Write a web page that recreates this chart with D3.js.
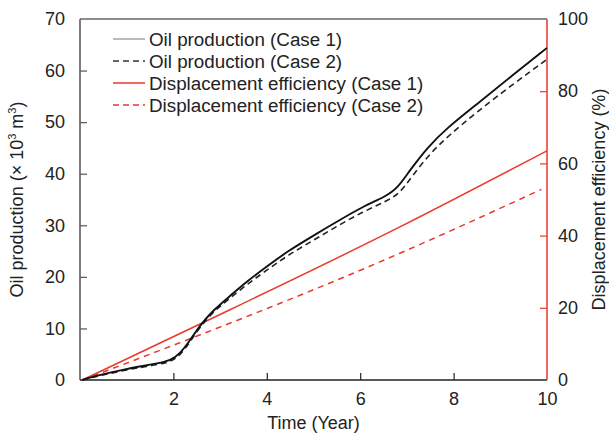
<!DOCTYPE html>
<html>
<head>
<meta charset="utf-8">
<script src="https://cdn.jsdelivr.net/npm/d3@7"></script>
<style>
  body { margin: 0; background: #fff; }
  svg { font-family: "Liberation Sans", Arial, sans-serif; }
  .axis text { font-size: 18px; fill: #222; }
  .axis .domain { display: none; }
</style>
</head>
<body>
<svg class="chart" width="609" height="434"></svg>
<script>
// years and values
var oilYears1 = [0.05, 0.2, 1.0, 1.6, 1.95, 2.15, 2.35, 2.57, 2.85, 3.2, 3.6, 4.0, 4.45, 5.0, 5.5, 6.05, 6.55, 6.8, 7.05, 7.45, 7.85, 8.5, 9.25, 10.0];
var oilCase1 = [0, 0.5, 2.2, 3.1, 3.8, 5.2, 7.6, 10.6, 13.5, 16.2, 19.3, 22.0, 25.0, 28.0, 30.7, 33.6, 35.6, 37.2, 40.5, 45.2, 48.8, 53.5, 59.0, 64.4];
var oilYears2 = [0.05, 0.2, 1.0, 1.6, 1.95, 2.15, 2.35, 2.57, 2.85, 3.2, 3.6, 4.0, 4.45, 5.0, 5.5, 6.05, 6.55, 6.85, 7.1, 7.5, 7.9, 8.5, 9.25, 10.0];
var oilCase2 = [0, 0.4, 2.0, 2.9, 3.5, 4.9, 7.3, 10.3, 13.2, 15.8, 18.7, 21.3, 24.2, 27.1, 29.8, 32.6, 34.6, 36.2, 39.4, 44.0, 47.4, 52.0, 57.2, 62.2];
var effYears1 = [0.05, 2.57, 6.85, 10.0];
var effCase1 = [0, 15.5, 42.4, 63.5];
var effYears2 = [0.05, 6.85, 9.88];
var effCase2 = [0, 35.1, 52.8];

var xTicks = [2, 4, 6, 8, 10];
var yTicks = [0, 10, 20, 30, 40, 50, 60, 70];
var y2Ticks = [0, 20, 40, 60, 80, 100];

var legendLabels = ["Oil production (Case 1)", "Oil production (Case 2)",
                    "Displacement efficiency (Case 1)", "Displacement efficiency (Case 2)"];

var red = "#e8392b";

var svg = d3.select(".chart"),
    margin = { top: 19, right: 62, bottom: 54, left: 80 },
    width = +svg.attr("width") - margin.left - margin.right,
    height = +svg.attr("height") - margin.top - margin.bottom;

var x = d3.scaleLinear().domain([0, 10]).range([0, width]),
    y = d3.scaleLinear().domain([0, 70]).range([height, 0]),
    y2 = d3.scaleLinear().domain([0, 100]).range([height, 0]);

var g = svg.append("g")
    .attr("transform", "translate(" + margin.left + "," + margin.top + ")");

// frame
g.append("line").attr("x1", 0).attr("x2", width).attr("y1", 0).attr("y2", 0)
    .attr("stroke", "#666").attr("stroke-width", 1.5);
g.append("line").attr("x1", 0).attr("x2", 0).attr("y1", 0).attr("y2", height)
    .attr("stroke", "#555").attr("stroke-width", 1.5);
g.append("line").attr("x1", 0).attr("x2", width).attr("y1", height).attr("y2", height)
    .attr("stroke", "#222").attr("stroke-width", 1.5);
g.append("line").attr("x1", width).attr("x2", width).attr("y1", 0).attr("y2", height)
    .attr("stroke", red).attr("stroke-width", 1.5);

// axes, ticks pointing inward
var xAxis = g.append("g")
    .attr("class", "axis")
    .attr("transform", "translate(0," + height + ")")
    .call(d3.axisTop(x).tickValues(xTicks).tickSize(7).tickFormat(d3.format("d")));
xAxis.selectAll("line").attr("stroke", "#222").attr("stroke-width", 1.2)
    .filter(function(d) { return d === 10; }).remove();
xAxis.selectAll("text").attr("y", 19).attr("dy", "0.35em");

var yAxis = g.append("g")
    .attr("class", "axis")
    .call(d3.axisRight(y).tickValues(yTicks).tickSize(7));
yAxis.selectAll("line").attr("stroke", "#555").attr("stroke-width", 1.2)
    .filter(function(d) { return d === 0 || d === 70; }).remove();
yAxis.selectAll("text").attr("x", -15).attr("text-anchor", "end");

var y2Axis = g.append("g")
    .attr("class", "axis")
    .attr("transform", "translate(" + width + ",0)")
    .call(d3.axisLeft(y2).tickValues(y2Ticks).tickSize(7));
y2Axis.selectAll("line").attr("stroke", red).attr("stroke-width", 1.2)
    .filter(function(d) { return d === 0 || d === 100; }).remove();
y2Axis.selectAll("text").attr("x", 11).attr("text-anchor", "start");

// axis titles
svg.append("text")
    .attr("x", margin.left + width / 2).attr("y", 429)
    .attr("text-anchor", "middle").attr("font-size", 18).attr("fill", "#222")
    .text("Time (Year)");

var yt = svg.append("text")
    .attr("transform", "translate(23," + (margin.top + height / 2) + ") rotate(-90)")
    .attr("text-anchor", "middle").attr("font-size", 18).attr("fill", "#222");
yt.append("tspan").text("Oil production (× 10");
yt.append("tspan").attr("font-size", 11).attr("dy", -7).text("3");
yt.append("tspan").attr("dy", 7).text(" m");
yt.append("tspan").attr("font-size", 11).attr("dy", -7).text("3");
yt.append("tspan").attr("dy", 7).text(")");

svg.append("text")
    .attr("transform", "translate(605," + (margin.top + height / 2) + ") rotate(-90)")
    .attr("text-anchor", "middle").attr("font-size", 18).attr("fill", "#222")
    .text("Displacement efficiency (%)");

// series
function toPts(xs, ys) { return xs.map(function(d, i) { return [d, ys[i]]; }); }

var oilLine = d3.line().curve(d3.curveBasis)
    .x(function(d) { return x(d[0]); })
    .y(function(d) { return y(d[1]); });
var effLine = d3.line().curve(d3.curveMonotoneX)
    .x(function(d) { return x(d[0]); })
    .y(function(d) { return y2(d[1]); });

var series = [
    { path: effLine(toPts(effYears1, effCase1)), color: red, dash: null, w: 1.5 },
    { path: effLine(toPts(effYears2, effCase2)), color: red, dash: "6,5", w: 1.5 },
    { path: oilLine(toPts(oilYears2, oilCase2)), color: "#222", dash: "6,4", w: 1.6 },
    { path: oilLine(toPts(oilYears1, oilCase1)), color: "#111", dash: null, w: 1.9 }
];

g.selectAll(".series")
    .data(series)
    .enter().append("path")
    .attr("class", "series")
    .attr("d", function(d) { return d.path; })
    .attr("fill", "none")
    .attr("stroke", function(d) { return d.color; })
    .attr("stroke-width", function(d) { return d.w; })
    .attr("stroke-dasharray", function(d) { return d.dash; });

// legend
var legendStyles = [
    { color: "#777", dash: null, w: 1 },
    { color: "#333", dash: "6,4", w: 1.4 },
    { color: red, dash: null, w: 1.5 },
    { color: red, dash: "6,4", w: 1.4 }
];

var legend = svg.append("g").attr("transform", "translate(113,39)");
var rows = legend.selectAll(".row")
    .data(legendLabels)
    .enter().append("g")
    .attr("class", "row")
    .attr("transform", function(d, i) { return "translate(0," + (i * 22) + ")"; });
rows.append("line")
    .attr("x1", 0).attr("x2", 32).attr("y1", 0).attr("y2", 0)
    .attr("stroke", function(d, i) { return legendStyles[i].color; })
    .attr("stroke-width", function(d, i) { return legendStyles[i].w; })
    .attr("stroke-dasharray", function(d, i) { return legendStyles[i].dash; });
rows.append("text")
    .attr("x", 36).attr("dy", "0.35em")
    .attr("font-size", 18.8).attr("fill", "#222")
    .text(function(d) { return d; });
</script>
</body>
</html>
